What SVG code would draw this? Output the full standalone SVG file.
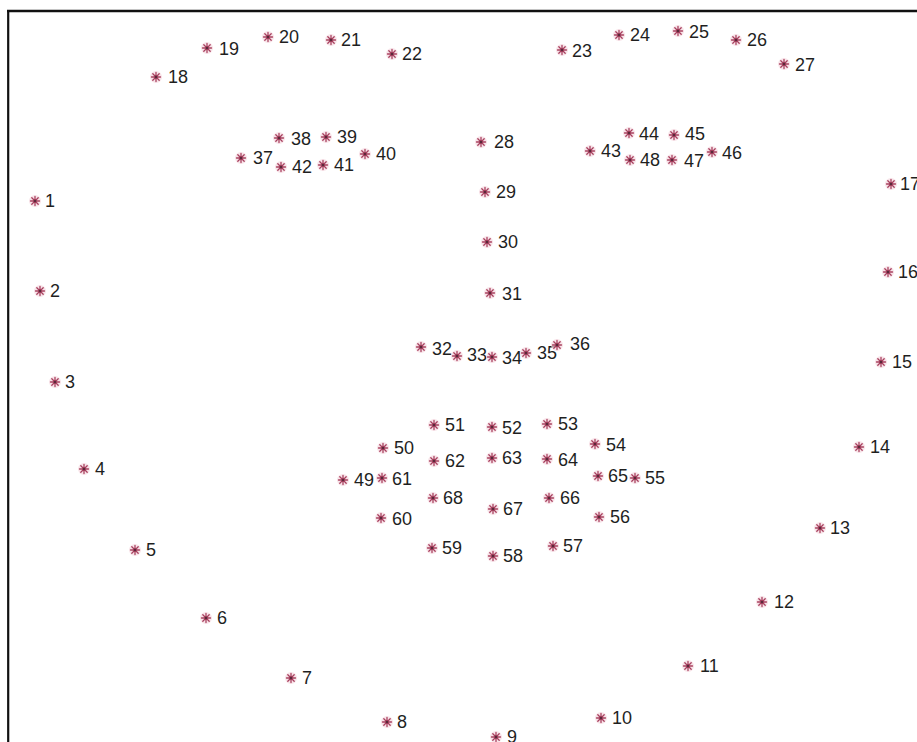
<svg xmlns="http://www.w3.org/2000/svg" xmlns:xlink="http://www.w3.org/1999/xlink" width="917" height="742" viewBox="0 0 917 742">
<style>
.lbl{font-family:"Liberation Sans",Arial,sans-serif;font-size:18px;fill:#1f1f1f}
.frame{stroke:#111;fill:none}
</style>
<defs>
<g id="star">
<circle r="6" fill="#f5d9e0" opacity="0.7"/>
<path d="M-4.5 0H4.5M0 -4.5V4.5M-3.2 -3.2L3.2 3.2M-3.2 3.2L3.2 -3.2" stroke="#a8405f" stroke-width="1.3" stroke-linecap="round"/>
<circle r="1.3" fill="#5a2a3a"/>
</g>
</defs>
<rect width="917" height="742" fill="#ffffff"/>
<g id="frame">
<line class="frame" x1="7" y1="11" x2="917" y2="11" stroke-width="2.6"/>
<line class="frame" x1="8.2" y1="10" x2="8.2" y2="742" stroke-width="2.2"/>
</g>
<g id="p1"><use xlink:href="#star" x="35" y="201"/><text class="lbl" x="45" y="207">1</text></g>
<g id="p2"><use xlink:href="#star" x="40" y="291"/><text class="lbl" x="50" y="297">2</text></g>
<g id="p3"><use xlink:href="#star" x="55" y="382"/><text class="lbl" x="65" y="388">3</text></g>
<g id="p4"><use xlink:href="#star" x="84" y="469"/><text class="lbl" x="95" y="475">4</text></g>
<g id="p5"><use xlink:href="#star" x="135" y="550"/><text class="lbl" x="146" y="556">5</text></g>
<g id="p6"><use xlink:href="#star" x="206" y="618"/><text class="lbl" x="217" y="624">6</text></g>
<g id="p7"><use xlink:href="#star" x="291" y="678"/><text class="lbl" x="302" y="684">7</text></g>
<g id="p8"><use xlink:href="#star" x="387" y="722"/><text class="lbl" x="397" y="728">8</text></g>
<g id="p9"><use xlink:href="#star" x="496" y="737"/><text class="lbl" x="507" y="743">9</text></g>
<g id="p10"><use xlink:href="#star" x="601" y="718"/><text class="lbl" x="612" y="724">10</text></g>
<g id="p11"><use xlink:href="#star" x="688" y="666"/><text class="lbl" x="700" y="672">11</text></g>
<g id="p12"><use xlink:href="#star" x="762" y="602"/><text class="lbl" x="774" y="608">12</text></g>
<g id="p13"><use xlink:href="#star" x="820" y="528"/><text class="lbl" x="830" y="534">13</text></g>
<g id="p14"><use xlink:href="#star" x="859" y="447"/><text class="lbl" x="870" y="453">14</text></g>
<g id="p15"><use xlink:href="#star" x="881" y="362"/><text class="lbl" x="892" y="368">15</text></g>
<g id="p16"><use xlink:href="#star" x="888" y="272"/><text class="lbl" x="898" y="278">16</text></g>
<g id="p17"><use xlink:href="#star" x="891" y="184"/><text class="lbl" x="900" y="190">17</text></g>
<g id="p18"><use xlink:href="#star" x="156" y="77"/><text class="lbl" x="168" y="83">18</text></g>
<g id="p19"><use xlink:href="#star" x="207" y="48"/><text class="lbl" x="219" y="55">19</text></g>
<g id="p20"><use xlink:href="#star" x="268" y="37"/><text class="lbl" x="279" y="43">20</text></g>
<g id="p21"><use xlink:href="#star" x="331" y="40"/><text class="lbl" x="341" y="46">21</text></g>
<g id="p22"><use xlink:href="#star" x="392" y="54"/><text class="lbl" x="402" y="60">22</text></g>
<g id="p23"><use xlink:href="#star" x="562" y="50"/><text class="lbl" x="572" y="57">23</text></g>
<g id="p24"><use xlink:href="#star" x="619" y="35"/><text class="lbl" x="630" y="41">24</text></g>
<g id="p25"><use xlink:href="#star" x="678" y="31"/><text class="lbl" x="689" y="38">25</text></g>
<g id="p26"><use xlink:href="#star" x="736" y="40"/><text class="lbl" x="747" y="46">26</text></g>
<g id="p27"><use xlink:href="#star" x="784" y="64"/><text class="lbl" x="795" y="71">27</text></g>
<g id="p28"><use xlink:href="#star" x="481" y="142"/><text class="lbl" x="494" y="148">28</text></g>
<g id="p29"><use xlink:href="#star" x="485" y="192"/><text class="lbl" x="496" y="198">29</text></g>
<g id="p30"><use xlink:href="#star" x="487" y="242"/><text class="lbl" x="498" y="248">30</text></g>
<g id="p31"><use xlink:href="#star" x="490" y="293"/><text class="lbl" x="502" y="300">31</text></g>
<g id="p32"><use xlink:href="#star" x="421" y="347"/><text class="lbl" x="432" y="355">32</text></g>
<g id="p33"><use xlink:href="#star" x="457" y="356"/><text class="lbl" x="467" y="361">33</text></g>
<g id="p34"><use xlink:href="#star" x="492" y="357"/><text class="lbl" x="502" y="364">34</text></g>
<g id="p35"><use xlink:href="#star" x="526" y="353"/><text class="lbl" x="537" y="359">35</text></g>
<g id="p36"><use xlink:href="#star" x="557" y="345"/><text class="lbl" x="570" y="350">36</text></g>
<g id="p37"><use xlink:href="#star" x="241" y="158"/><text class="lbl" x="253" y="164">37</text></g>
<g id="p38"><use xlink:href="#star" x="279" y="138"/><text class="lbl" x="291" y="145">38</text></g>
<g id="p39"><use xlink:href="#star" x="326" y="137"/><text class="lbl" x="337" y="143">39</text></g>
<g id="p40"><use xlink:href="#star" x="365" y="154"/><text class="lbl" x="376" y="160">40</text></g>
<g id="p41"><use xlink:href="#star" x="323" y="165"/><text class="lbl" x="334" y="171">41</text></g>
<g id="p42"><use xlink:href="#star" x="281" y="167"/><text class="lbl" x="292" y="173">42</text></g>
<g id="p43"><use xlink:href="#star" x="590" y="151"/><text class="lbl" x="601" y="157">43</text></g>
<g id="p44"><use xlink:href="#star" x="629" y="133"/><text class="lbl" x="639" y="140">44</text></g>
<g id="p45"><use xlink:href="#star" x="674" y="135"/><text class="lbl" x="685" y="140">45</text></g>
<g id="p46"><use xlink:href="#star" x="712" y="152"/><text class="lbl" x="722" y="159">46</text></g>
<g id="p47"><use xlink:href="#star" x="672" y="160"/><text class="lbl" x="684" y="167">47</text></g>
<g id="p48"><use xlink:href="#star" x="630" y="160"/><text class="lbl" x="640" y="166">48</text></g>
<g id="p49"><use xlink:href="#star" x="343" y="480"/><text class="lbl" x="354" y="486">49</text></g>
<g id="p50"><use xlink:href="#star" x="383" y="448"/><text class="lbl" x="394" y="454">50</text></g>
<g id="p51"><use xlink:href="#star" x="434" y="425"/><text class="lbl" x="445" y="431">51</text></g>
<g id="p52"><use xlink:href="#star" x="492" y="427"/><text class="lbl" x="502" y="434">52</text></g>
<g id="p53"><use xlink:href="#star" x="547" y="424"/><text class="lbl" x="558" y="430">53</text></g>
<g id="p54"><use xlink:href="#star" x="595" y="444"/><text class="lbl" x="606" y="451">54</text></g>
<g id="p55"><use xlink:href="#star" x="635" y="478"/><text class="lbl" x="645" y="484">55</text></g>
<g id="p56"><use xlink:href="#star" x="599" y="517"/><text class="lbl" x="610" y="523">56</text></g>
<g id="p57"><use xlink:href="#star" x="553" y="546"/><text class="lbl" x="563" y="552">57</text></g>
<g id="p58"><use xlink:href="#star" x="493" y="556"/><text class="lbl" x="503" y="562">58</text></g>
<g id="p59"><use xlink:href="#star" x="432" y="548"/><text class="lbl" x="442" y="554">59</text></g>
<g id="p60"><use xlink:href="#star" x="381" y="518"/><text class="lbl" x="392" y="525">60</text></g>
<g id="p61"><use xlink:href="#star" x="382" y="478"/><text class="lbl" x="392" y="485">61</text></g>
<g id="p62"><use xlink:href="#star" x="434" y="461"/><text class="lbl" x="445" y="467">62</text></g>
<g id="p63"><use xlink:href="#star" x="492" y="458"/><text class="lbl" x="502" y="464">63</text></g>
<g id="p64"><use xlink:href="#star" x="547" y="459"/><text class="lbl" x="558" y="466">64</text></g>
<g id="p65"><use xlink:href="#star" x="598" y="476"/><text class="lbl" x="608" y="482">65</text></g>
<g id="p66"><use xlink:href="#star" x="549" y="498"/><text class="lbl" x="560" y="504">66</text></g>
<g id="p67"><use xlink:href="#star" x="493" y="509"/><text class="lbl" x="503" y="515">67</text></g>
<g id="p68"><use xlink:href="#star" x="433" y="498"/><text class="lbl" x="443" y="504">68</text></g>
<g id="connectors"></g>
</svg>
